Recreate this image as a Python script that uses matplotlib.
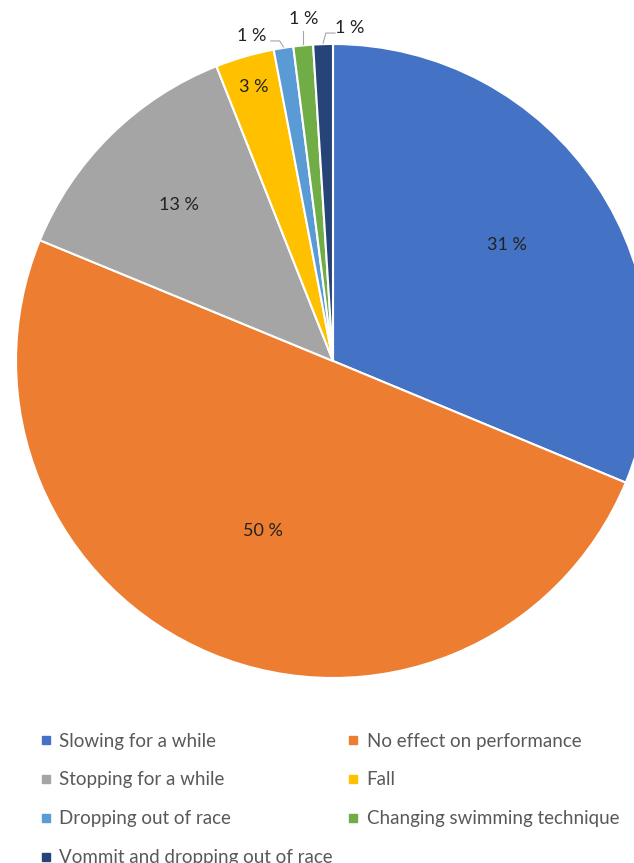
import matplotlib.pyplot as plt
from matplotlib.lines import Line2D
import numpy as np

labels = ["Slowing for a while", "No effect on performance", "Stopping for a while",
          "Fall", "Dropping out of race", "Changing swimming technique",
          "Vommit and dropping out of race"]
values = [31.3, 50.0, 12.8, 3.0, 1.0, 1.0, 1.0]
colors = ["#4472C4", "#ED7D31", "#A5A5A5", "#FFC000", "#5B9BD5", "#70AD47", "#264478"]

plt.rcParams['font.family'] = ['Lato', 'DejaVu Sans']

W, H = 634, 863
fig = plt.figure(figsize=(W / 100, H / 100), dpi=100)
cx, cy, r = 333, 361, 317
ax = fig.add_axes([(cx - r) / W, (H - cy - r) / H, 2 * r / W, 2 * r / H])

wedges, _ = ax.pie(values, colors=colors, startangle=90, counterclock=False, radius=1,
                   wedgeprops=dict(edgecolor="white", linewidth=1.5))
ax.set_xlim(-1, 1)
ax.set_ylim(-1, 1)
ax.axis("off")
for w in wedges:
    w.set_clip_on(False)

inner_r = [0.66, 0.58, 0.69, 0.9]
for i, w in enumerate(wedges):
    mid = np.deg2rad((w.theta1 + w.theta2) / 2)
    txt = f"{values[i]:.0f} %"
    if i < 4:
        ax.text(inner_r[i] * np.cos(mid), inner_r[i] * np.sin(mid), txt,
                ha="center", va="center", fontsize=13, color="#222222")
        continue
    px, py = np.cos(mid), np.sin(mid)
    if i == 4:
        tx, ty = px - 0.10, py + 0.038
        ax.plot([px, px - 0.012, tx + 0.06], [py + 0.003, ty - 0.016, ty - 0.016],
                color="#A6A6A6", lw=0.8, clip_on=False)
    elif i == 5:
        tx, ty = px, py + 0.082
        ax.plot([px, px], [py + 0.005, ty - 0.035], color="#A6A6A6", lw=0.8, clip_on=False)
    else:
        tx, ty = px + 0.085, py + 0.05
        ax.plot([px, px + 0.009, tx - 0.047], [py + 0.003, ty - 0.015, ty - 0.015],
                color="#A6A6A6", lw=0.8, clip_on=False)
    ax.text(tx, ty, txt, ha="center", va="center", fontsize=13, color="#222222",
            clip_on=False)

handles = [Line2D([], [], marker="s", linestyle="none", markersize=6,
                  markerfacecolor=c, markeredgecolor=c) for c in colors]
order = [0, 2, 4, 6, 1, 3, 5]
fig.legend([handles[k] for k in order], [labels[k] for k in order], ncol=2,
           loc="upper left", bbox_to_anchor=(0.052, 1 - 725 / H), frameon=False,
           fontsize=13.5, labelcolor="#595959", handlelength=0.6, handletextpad=0.4,
           columnspacing=0.8, labelspacing=1.17, borderaxespad=0)

fig.savefig("out.png", dpi=100)
